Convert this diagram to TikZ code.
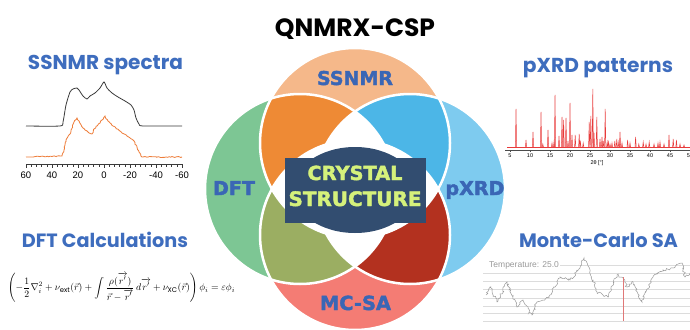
\documentclass[tikz,border=0pt]{standalone}
\usepackage{fontspec}
\usepackage{amsmath}
\setmainfont{Poppins}
\newfontfamily\heavyfont{DejaVu Sans}[BoldFeatures={FakeBold=2}]
\newfontfamily\arialfont{Liberation Sans}
\usetikzlibrary{positioning,decorations.pathmorphing}

\definecolor{nmrpeach}{HTML}{F5B88A}
\definecolor{dftgreen}{HTML}{7DC694}
\definecolor{xrdsky}{HTML}{7ECBEF}
\definecolor{mcsalmon}{HTML}{F47C74}
\definecolor{nmrdftorange}{HTML}{EE8A35}
\definecolor{nmrxrdblue}{HTML}{4CB6E7}
\definecolor{dftmcolive}{HTML}{9BAE62}
\definecolor{xrdmcred}{HTML}{B3311F}
\definecolor{boxnavy}{HTML}{324D70}
\definecolor{boxlime}{HTML}{D5F17B}
\definecolor{headblue}{HTML}{3E6DBE}
\definecolor{labelblue}{HTML}{3A66B5}
\definecolor{specblack}{HTML}{3A3A3A}
\definecolor{specorange}{HTML}{EE7D3A}
\definecolor{peakred}{HTML}{E83A3A}
\definecolor{gridgray}{HTML}{DCDCDC}
\definecolor{walkgray}{HTML}{9A9A9A}
\definecolor{markerred}{HTML}{E07878}

\def\R{95pt}

\tikzset{
  heading/.style={text=headblue, anchor=base, inner sep=0pt, font=\bfseries},
  circlabel/.style={text=labelblue, anchor=base, inner sep=0pt, font=\heavyfont\bfseries},
  boxtext/.style={text=boxlime, anchor=base, inner sep=0pt, font=\heavyfont\bfseries},
  ticklabel/.style={inner sep=0pt, font=\arialfont\fontsize{9.5}{10}\selectfont},
  xrdlabel/.style={inner sep=0pt, font=\arialfont\fontsize{5.5}{6}\selectfont},
}

\begin{document}
\begin{tikzpicture}[x=1pt,y=-1pt]
\fill[white] (0,0) rectangle (690,329);
\useasboundingbox (0,0) rectangle (690,329);
\pgfmathsetseed{11}

% the four circles
\coordinate (T) at (355,143);
\coordinate (L) at (300,189);
\coordinate (Rr) at (410,189);
\coordinate (B) at (355,235);

\fill[nmrpeach] (T) circle[radius=\R];
\fill[dftgreen] (L) circle[radius=\R];
\fill[xrdsky] (Rr) circle[radius=\R];
\fill[mcsalmon] (B) circle[radius=\R];
\begin{scope}
  \clip (T) circle[radius=\R];
  \fill[nmrdftorange] (L) circle[radius=\R];
  \fill[nmrxrdblue] (Rr) circle[radius=\R];
\end{scope}
\begin{scope}
  \clip (B) circle[radius=\R];
  \fill[dftmcolive] (L) circle[radius=\R];
  \fill[xrdmcred] (Rr) circle[radius=\R];
\end{scope}
\begin{scope}
  \clip (T) circle[radius=\R];
  \fill[white] (B) circle[radius=\R];
\end{scope}
\begin{scope}
  \clip (L) circle[radius=\R];
  \fill[white] (Rr) circle[radius=\R];
\end{scope}
\foreach \c in {T,L,Rr,B}
  \draw[white, line width=2.5pt] (\c) circle[radius=\R];

\node[circlabel] (nmr) at (355,85) {\resizebox{76pt}{!}{SSNMR}};
\node[circlabel] (dft) at (234,195) {\resizebox{42pt}{!}{DFT}};
\node[circlabel] (xrd) at (475,195) {\resizebox{59pt}{!}{pXRD}};
\node[circlabel] (mcsa) at (355.5,310) {\resizebox{71pt}{!}{MC-SA}};

% crystal structure box
\fill[boxnavy] (285,158) rectangle (426,223);
\fill[boxnavy] (355,190) ellipse[x radius=62pt, y radius=43pt];
\node[boxtext] (crystal) at (355,180) {\resizebox{95pt}{!}{CRYSTAL}};
\node[boxtext] (structure) at (355,206) {\resizebox{133pt}{!}{STRUCTURE}};

% title and headings
\node[anchor=base, inner sep=0pt, font=\bfseries] (title) at (355,37) {\resizebox{160pt}{!}{QNMRX-CSP}};
\node[heading] (nmrhead) at (105.5,70) {\resizebox{155pt}{!}{SSNMR spectra}};
\node[heading] (xrdhead) at (598,73) {\resizebox{150pt}{!}{pXRD patterns}};
\node[heading] (dfthead) at (105,247) {\resizebox{166pt}{!}{DFT Calculations}};
\node[heading] (mchead) at (598.5,247) {\resizebox{159pt}{!}{Monte-Carlo SA}};

% SSNMR spectra
\draw[specblack, line width=0.8pt] plot[smooth, tension=0.4] coordinates {
  (26,126) (60,126) (63,122) (66,105) (70,92) (73,89) (77,88) (79,90)
  (83,96) (87,99) (90,96) (95,93) (100,88) (104,82) (107,88) (112,93)
  (118,97) (125,101) (131,105) (134,110) (136,118) (139,124) (143,126) (182,126)};
\draw[specorange, line width=0.8pt, decorate,
      decoration={random steps, segment length=1.5pt, amplitude=0.5pt}]
  (26,157) -- (62,156) -- (64,150) -- (66,140) -- (70,134) -- (74,122) -- (77,118)
  -- (79,121) -- (83,128) -- (88,132) -- (92,134) -- (94,129) -- (97,126)
  -- (102,120) -- (105,116) -- (108,121) -- (113,126) -- (120,131) -- (127,136)
  -- (133,140) -- (136,145) -- (139,152) -- (142,157) -- (182,157);
\draw[specblack, line width=0.7pt] (26,164) -- (182,164);
\foreach \i in {0,...,30}
  \draw[specblack, line width=0.5pt] ({26+\i*5.2},164) -- ({26+\i*5.2},166.5);
\foreach \k/\lab in {0/60,1/40,2/20,3/0,4/-20,5/-40,6/-60} {
  \draw[specblack, line width=0.7pt] ({26+\k*26},164) -- ({26+\k*26},168);
  \node[ticklabel] (ppm\k) at ({26+\k*26},175) {\lab};
}

% pXRD pattern
\draw[peakred, line width=0.4pt] (507,147) -- (690,147);
\foreach \t/\h in {6.5/38, 9/7, 10.75/15, 12.75/35, 13.2/3, 14.5/17, 15.5/4, 16/5,
    16.25/52, 17.25/11, 18/30, 18.4/27, 19/29, 19.5/6, 20/44, 20.5/12, 21.3/12,
    22.3/13, 22.6/5, 23.3/4, 24.8/25, 25.2/31, 25.7/58, 26/14, 26.7/30, 27.5/8,
    28/10, 28.3/6, 28.8/38, 29.3/5, 29.6/5, 30/3, 30.5/4, 31.2/6, 31.7/8, 32.2/5,
    32.5/15, 33/4, 34.4/7, 35/4, 36.4/10, 37.2/3, 38.3/5, 39/3, 39.8/5, 41/3,
    42/4, 42.5/5, 43.5/3, 44.75/12, 45.8/8, 46.6/7, 47.5/3, 48.5/2}
  \draw[peakred, line width=0.5pt] ({510+(\t-5)*4-0.6},147) -- ({510+(\t-5)*4},{147-\h}) -- ({510+(\t-5)*4+0.6},147);
\draw[black!70, line width=0.5pt] (505,150) -- (690,150);
\foreach \t in {5,10,...,50} {
  \draw[black!70, line width=0.4pt] ({510+(\t-5)*4},150) -- ({510+(\t-5)*4},152);
  \node[xrdlabel] (deg\t) at ({510+(\t-5)*4},156) {\t};
}
\node[xrdlabel] (twotheta) at (597,163) {2θ [°]};

% DFT equation
\node[inner sep=0pt] (kohnsham) at (121.5,288) {\resizebox{227pt}{!}{$\displaystyle
  \left(-\frac{1}{2}\nabla_i^2+\nu_{\mathrm{ext}}(\vec{r})+\int\frac{\rho(\overrightarrow{r'})}{\vec{r}-\overrightarrow{r'}}\,d\overrightarrow{r'}+\nu_{\mathrm{XC}}(\vec{r})\right)\phi_i=\varepsilon\phi_i$}};

% Monte-Carlo trace
\draw[gridgray, line width=0.6pt] (560,265) -- (690,265);
\foreach \y in {273,281,289,298,306,313,321}
  \draw[gridgray, line width=0.6pt] (483,\y) -- (690,\y);
\node[anchor=west, inner sep=0pt, text=walkgray, font=\arialfont\fontsize{8.5}{9}\selectfont] (temp) at (489,265) {Temperature: 25.0};
\draw[walkgray, line width=0.5pt, decorate,
      decoration={random steps, segment length=1.6pt, amplitude=1.3pt}]
  (486,295) -- (490,287) -- (497,302) -- (507,282) -- (517,307) -- (523,300)
  -- (532,315) -- (537,302) -- (543,300) -- (550,295) -- (560,277) -- (570,280)
  -- (580,268) -- (584,258) -- (590,270) -- (597,292) -- (608,297) -- (617,275)
  -- (623,278) -- (627,287) -- (633,282) -- (642,302) -- (653,277) -- (663,270)
  -- (673,268) -- (682,263) -- (685,277) -- (690,273);
\draw[markerred, line width=0.8pt] (623,277) -- (623,321);
\end{tikzpicture}
\end{document}
